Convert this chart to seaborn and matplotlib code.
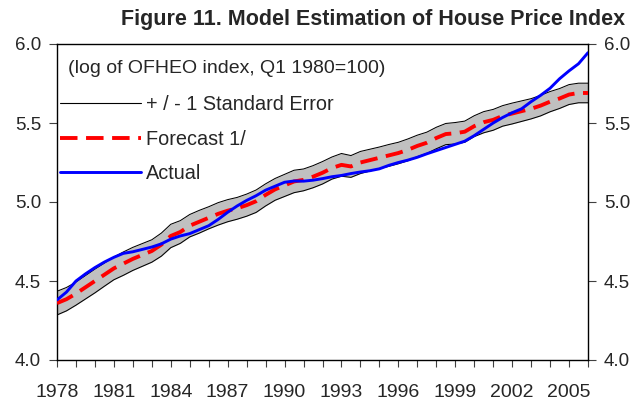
import numpy as np
import pandas as pd
import matplotlib
matplotlib.use("Agg")
import matplotlib.pyplot as plt
from matplotlib.lines import Line2D
import seaborn as sns

# ---------------- data (half-yearly, 1978.0 .. 2006.0) ----------------
years = [1978.0 + 0.5 * i for i in range(57)]

actual = [4.38, 4.43, 4.50, 4.545, 4.585, 4.62, 4.65, 4.675, 4.685, 4.70,
          4.715, 4.735, 4.765, 4.785, 4.80, 4.825, 4.85, 4.89, 4.935, 4.975,
          5.01, 5.04, 5.075, 5.10, 5.125, 5.133, 5.132, 5.138, 5.148, 5.16,
          5.168, 5.18, 5.19, 5.198, 5.21, 5.232, 5.25, 5.265, 5.283, 5.305,
          5.325, 5.345, 5.365, 5.385, 5.42, 5.46, 5.50, 5.535, 5.565, 5.59,
          5.635, 5.675, 5.72, 5.78, 5.83, 5.875, 5.945]

forecast = [4.36, 4.385, 4.42, 4.46, 4.50, 4.54, 4.58, 4.61, 4.64, 4.665,
            4.69, 4.73, 4.785, 4.81, 4.85, 4.875, 4.90, 4.925, 4.945, 4.96,
            4.98, 5.005, 5.045, 5.08, 5.105, 5.13, 5.14, 5.16, 5.185, 5.215,
            5.235, 5.225, 5.25, 5.265, 5.28, 5.295, 5.31, 5.33, 5.355, 5.375,
            5.405, 5.43, 5.435, 5.445, 5.48, 5.505, 5.52, 5.545, 5.56, 5.575,
            5.59, 5.61, 5.635, 5.655, 5.68, 5.69, 5.69]

std_err = [0.075, 0.074, 0.073, 0.074, 0.075, 0.073, 0.072, 0.074, 0.073, 0.072,
           0.071, 0.073, 0.074, 0.072, 0.071, 0.072, 0.070, 0.071, 0.070, 0.069,
           0.070, 0.071, 0.070, 0.069, 0.070, 0.071, 0.069, 0.070, 0.071, 0.070,
           0.072, 0.069, 0.070, 0.069, 0.068, 0.069, 0.068, 0.069, 0.068, 0.067,
           0.068, 0.067, 0.068, 0.067, 0.066, 0.067, 0.066, 0.065, 0.066, 0.065,
           0.064, 0.065, 0.064, 0.063, 0.063, 0.062, 0.062]

y_ticks = [4.0, 4.5, 5.0, 5.5, 6.0]
x_label_years = [1978, 1981, 1984, 1987, 1990, 1993, 1996, 1999, 2002, 2005]

title = "Figure 11. Model Estimation of House Price Index"
subtitle = "(log of OFHEO index, Q1 1980=100)"
labels = ["+ / - 1 Standard Error", "Forecast 1/", "Actual"]

# ---------------- frame ----------------
df = pd.DataFrame({"year": years, "actual": actual, "forecast": forecast,
                   "se": std_err})
df["upper"] = df["forecast"] + df["se"]
df["lower"] = df["forecast"] - df["se"]

sns.set_style("white")
plt.rcParams["font.family"] = ["Liberation Sans", "DejaVu Sans"]

DASH = (0, (4.5, 2.2))

fig = plt.figure(figsize=(6.39, 4.0), dpi=100)
ax = fig.add_axes([57 / 639, 40 / 400, 531 / 639, 316 / 400])

ax.fill_between(df["year"], df["lower"], df["upper"], color="#C0C0C0",
                linewidth=0, zorder=1)
sns.lineplot(data=df, x="year", y="upper", ax=ax, color="black", lw=0.75, zorder=2)
sns.lineplot(data=df, x="year", y="lower", ax=ax, color="black", lw=0.75, zorder=2)
sns.lineplot(data=df, x="year", y="forecast", ax=ax, color="#FF0000", lw=2.8,
             zorder=3, linestyle=DASH)
sns.lineplot(data=df, x="year", y="actual", ax=ax, color="#0000FF", lw=2.1,
             zorder=4)

ax.set_xlim(1978, 2006)
ax.set_ylim(4.0, 6.0)
ax.set_xlabel("")
ax.set_ylabel("")

ax.set_xticks(np.arange(1978, 2007, 1))
ax.set_xticklabels([str(y) if y in x_label_years else "" for y in range(1978, 2007)])
ax.set_yticks(y_ticks)
ax.set_yticklabels([f"{v:.1f}" for v in y_ticks])

ax.tick_params(axis="x", direction="out", length=5, width=0.8, color="#404040",
               labelsize=14, pad=12, bottom=True)
ax.tick_params(axis="y", direction="out", length=6, width=0.8, color="#404040",
               labelsize=13.5, left=True, right=True, labelright=True, pad=5.5)

for s in ax.spines.values():
    s.set_color("black")
    s.set_linewidth(1.0)
    s.set_visible(True)

fig.text(373 / 639, 0.95, title, ha="center", va="center", fontsize=15.5,
         fontweight="bold")
ax.text(0.0207, 0.923, subtitle, transform=ax.transAxes, ha="left", va="center",
        fontsize=14)

handles = [Line2D([], [], color="black", lw=0.8),
           Line2D([], [], color="#FF0000", lw=2.8, linestyle=DASH),
           Line2D([], [], color="#0000FF", lw=2.1)]
ax.legend(handles, labels, loc="upper left", bbox_to_anchor=(0.0056, 0.839),
          frameon=False, fontsize=14.3, handlelength=4.1, handletextpad=0.25,
          labelspacing=0.79, borderpad=0, borderaxespad=0)

fig.savefig("out.png", dpi=100)
